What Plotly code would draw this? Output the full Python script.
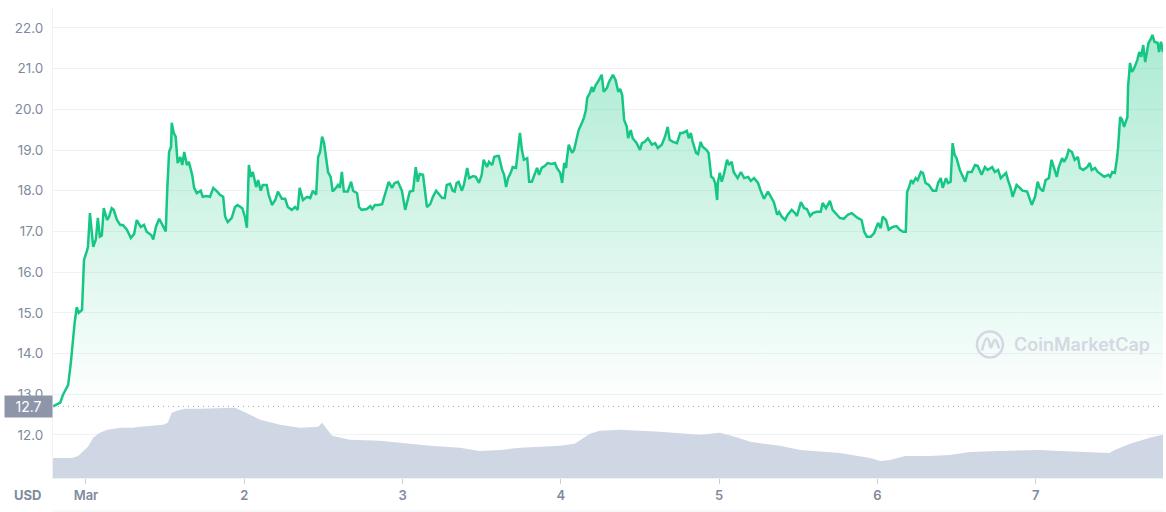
import pandas as pd
import plotly.graph_objects as go

# ---------------- data ----------------
# hours relative to 1 March 00:00
price_hours = [
    -5.0, -3.9, -3.5, -2.7, -2.3, -2.0, -1.7, -1.4, -1.1, -0.6, -0.3, 0.2, 0.3, 0.6, 0.9, 1.1, 1.5, 1.8, 2.1, 2.4,
    2.7, 3.2, 3.5, 3.9, 4.2, 4.7, 5.2, 5.6, 6.2, 6.8, 7.3, 7.7, 8.3, 8.8, 9.2, 9.9, 10.2, 10.6, 11.1, 11.7,
    12.1, 12.3, 12.6, 12.9, 13.0, 13.3, 13.6, 13.9, 14.3, 14.6, 14.9, 15.3, 15.6, 16.1, 16.4, 16.8, 17.4, 17.7, 18.3, 18.8,
    19.3, 19.9, 20.3, 20.8, 21.1, 21.5, 22.1, 22.6, 23.0,
    23.7, 24.1, 24.4, 24.7, 25.0, 25.3, 25.8, 26.1, 26.5, 26.8, 27.4, 27.7, 28.2, 28.7, 29.1, 29.7, 30.2, 30.6, 31.2, 31.7,
    32.1, 32.4, 32.9, 33.5, 34.0, 34.4, 34.9, 35.2, 35.5, 35.8, 36.1, 36.4, 36.7, 37.1, 37.4, 37.9, 38.2, 38.5, 38.8, 39.1,
    39.7, 40.2, 40.5, 41.1, 41.4, 41.8, 42.6, 43.1, 43.4, 43.8, 44.3, 44.9, 45.5, 45.9, 46.4, 46.8, 47.3, 47.9, 48.4, 48.8,
    49.1, 49.6, 50.0, 50.3, 50.6,
    51.1, 51.4, 51.7, 52.2, 52.6, 53.1, 53.4, 54.0, 54.4, 54.7, 55.2, 55.6, 55.9, 56.2, 56.5, 57.0, 57.3, 57.8, 58.1, 58.7,
    59.1, 59.6, 60.0, 60.3, 60.8, 61.1, 61.6, 61.9, 62.3, 62.6, 63.1, 63.4, 63.7, 64.0, 64.4, 64.7, 65.2, 65.5, 65.8, 66.1,
    66.4, 66.9, 67.2, 67.6, 67.9, 68.4, 68.7, 69.1, 69.6, 70.0, 70.6, 71.1, 71.4, 71.9, 72.2, 72.5, 72.8, 72.9, 73.2, 73.7,
    74.0, 74.4, 74.7, 75.2, 75.5, 75.8, 76.0, 76.4, 76.7, 76.9, 77.3, 77.6, 78.2,
    78.5, 79.0, 79.3, 79.9, 80.3, 80.7, 81.0, 81.3, 81.6, 82.0, 82.2, 82.6, 82.9, 83.5, 84.0, 84.3, 84.7, 85.2, 85.8, 86.3,
    86.7, 87.3, 87.8, 88.2, 88.5, 89.0, 89.6, 90.1, 90.5, 91.1, 91.4, 91.7, 92.0, 92.5, 92.8, 93.2, 93.5, 94.1, 94.4, 94.8,
    95.1, 95.4, 95.7, 95.8, 96.1, 96.4, 96.7, 97.2, 97.5, 97.9, 98.2, 98.8, 99.3, 99.8, 100.4, 100.8, 101.3, 101.9, 102.3, 102.8,
    103.4, 103.8, 104.3, 104.8, 105.1, 105.5, 106.0, 106.4, 107.0, 107.5,
    107.8, 108.4, 108.9, 109.3, 109.8, 110.2, 110.8, 111.4, 111.7, 112.2, 112.8, 113.2, 113.9, 114.3, 114.9, 115.5, 116.1, 116.6, 117.0, 117.6,
    118.0, 118.4, 119.0, 119.5, 119.8, 120.1, 120.5, 120.8, 121.3, 121.7, 122.3, 122.9, 123.4, 123.9, 124.3, 124.5, 124.8, 125.1, 125.4, 125.8,
    126.1, 126.6, 126.9, 127.3, 127.8, 128.4, 128.9, 129.2, 129.6, 129.9, 130.4, 130.7, 131.1, 131.4, 131.7, 132.0, 132.5, 133.0, 133.3, 133.7,
    134.3, 134.8,
    135.2, 135.8, 136.3, 136.7, 137.4, 137.8, 138.3, 138.7, 139.5, 139.8, 140.2, 140.5, 141.1, 141.6, 142.0, 142.7, 143.0, 143.4, 143.9, 144.3,
    144.6, 145.1, 145.5, 146.0, 146.4, 146.8, 147.2, 147.5, 148.0, 148.3, 148.7, 149.0, 149.5, 149.9, 150.4, 150.7, 151.2, 151.8, 152.2, 152.5,
    153.0, 153.4, 153.9, 154.4, 155.0, 155.3, 155.6, 156.0, 156.3, 156.5, 156.8, 157.1, 157.4, 157.9, 158.0, 158.3, 158.6, 158.9, 159.4, 159.7,
    160.0, 160.3, 160.6, 161.1, 161.4, 161.7, 162.0, 162.5, 162.7, 163.0, 163.3,
]
price_usd = [
    12.70, 12.79, 12.98, 13.23, 13.77, 14.33, 14.78, 15.14, 15.00, 15.07, 16.30, 16.55, 16.62, 17.45, 16.87, 16.62, 16.80, 17.33, 16.87, 16.90,
    17.57, 17.28, 17.36, 17.57, 17.53, 17.28, 17.16, 17.16, 17.04, 16.84, 16.94, 17.28, 17.11, 17.16, 16.99, 16.91, 16.80, 17.11, 17.31, 17.11,
    17.00, 17.94, 18.95, 19.08, 19.67, 19.42, 19.33, 18.68, 18.83, 18.63, 18.95, 18.63, 18.71, 18.39, 18.07, 17.94, 18.00, 17.85, 17.87, 17.85,
    18.07, 17.98, 17.90, 17.85, 17.36, 17.23, 17.33, 17.60, 17.65,
    17.57, 17.36, 17.09, 18.63, 18.34, 18.46, 18.09, 18.26, 18.00, 18.14, 18.14, 17.90, 17.65, 17.77, 17.98, 17.80, 17.80, 17.60, 17.53, 17.60,
    17.53, 18.07, 17.77, 17.85, 17.82, 18.00, 17.90, 18.83, 18.95, 19.33, 19.17, 18.83, 18.46, 18.34, 17.98, 18.07, 18.14, 18.07, 18.46, 17.98,
    17.98, 18.22, 18.00, 17.94, 17.60, 17.53, 17.55, 17.62, 17.55, 17.65, 17.65, 17.67, 18.04, 18.22, 18.07, 18.19, 18.22, 18.00, 17.53, 17.77,
    17.98, 18.00, 18.58, 18.22, 18.41,
    18.39, 17.94, 17.60, 17.67, 17.85, 18.00, 17.94, 17.82, 17.82, 18.14, 18.17, 18.00, 17.98, 18.19, 18.22, 18.00, 18.14, 18.56, 18.31, 18.36,
    18.34, 18.19, 18.39, 18.76, 18.58, 18.71, 18.63, 18.83, 18.85, 18.85, 18.51, 18.39, 18.09, 18.31, 18.44, 18.58, 18.56, 19.00, 19.42, 19.00,
    18.76, 18.80, 18.22, 18.22, 18.34, 18.56, 18.39, 18.56, 18.61, 18.68, 18.66, 18.68, 18.56, 18.44, 18.19, 18.68, 18.56, 18.76, 19.13, 18.93,
    19.00, 19.25, 19.49, 19.67, 19.79, 19.98, 20.28, 20.40, 20.55, 20.43, 20.60, 20.67, 20.85,
    20.43, 20.53, 20.67, 20.85, 20.72, 20.43, 20.50, 20.35, 19.74, 19.57, 19.29, 19.49, 19.29, 19.17, 19.00, 19.17, 19.20, 19.29, 19.13, 19.17,
    19.05, 19.13, 19.33, 19.57, 19.25, 19.20, 19.17, 19.42, 19.42, 19.47, 19.29, 19.42, 19.20, 18.93, 18.90, 19.20, 19.08, 19.00, 18.93, 18.34,
    18.31, 18.19, 17.77, 18.19, 18.44, 18.22, 18.39, 18.76, 18.63, 18.71, 18.46, 18.31, 18.46, 18.31, 18.34, 18.24, 18.31, 18.19, 18.00, 17.80,
    17.98, 17.85, 17.72, 17.41, 17.48, 17.36, 17.28, 17.41, 17.53, 17.45,
    17.38, 17.72, 17.57, 17.55, 17.38, 17.45, 17.48, 17.48, 17.70, 17.57, 17.75, 17.53, 17.41, 17.33, 17.31, 17.41, 17.45, 17.38, 17.33, 17.28,
    16.99, 16.87, 16.87, 16.96, 17.11, 17.21, 17.08, 17.36, 17.28, 17.04, 17.11, 17.13, 17.04, 16.99, 16.99, 17.97, 18.09, 18.26, 18.19, 18.31,
    18.26, 18.46, 18.44, 18.19, 18.14, 18.00, 18.00, 18.19, 18.31, 18.07, 18.31, 18.19, 18.22, 19.17, 18.88, 18.80, 18.51, 18.34, 18.22, 18.46,
    18.46, 18.63,
    18.61, 18.39, 18.58, 18.51, 18.58, 18.46, 18.51, 18.31, 18.44, 18.26, 18.07, 17.85, 18.14, 18.07, 18.00, 17.98, 17.85, 17.65, 17.85, 18.22,
    18.07, 17.98, 18.26, 18.31, 18.76, 18.56, 18.34, 18.58, 18.80, 18.71, 18.83, 19.00, 18.95, 18.76, 18.83, 18.56, 18.51, 18.58, 18.68, 18.51,
    18.56, 18.46, 18.39, 18.34, 18.39, 18.34, 18.46, 18.44, 18.76, 19.08, 19.81, 19.74, 19.57, 19.81, 20.55, 21.14, 20.92, 21.00, 21.21, 21.41,
    21.29, 21.58, 21.16, 21.63, 21.71, 21.83, 21.66, 21.63, 21.41, 21.66, 21.41,
]

# trading volume (million USD, relative scale read from the grey area)
volume_hours = [
    -5.0, -2.1, -1.2, -0.2, 0.3, 1.1, 2.1, 3.2, 5.2, 7.1, 8.2, 11.7, 12.4, 13.0, 13.8, 15.0, 17.3, 22.6, 23.3, 24.9,
    26.4, 29.4, 32.4, 35.2, 35.8, 36.4, 37.3, 40.0, 44.6, 47.6, 52.2, 56.7, 59.7, 62.8, 65.8, 71.9, 74.1, 76.4, 77.9, 81.0,
    87.0, 93.1, 96.1, 98.4, 100.7, 105.2, 108.3, 114.3, 118.9, 120.4, 121.9, 124.2, 127.9, 131.0, 134.0, 138.6, 144.6, 147.7, 152.2, 155.2,
    156.0, 158.3, 161.3, 163.3,
]
volume_musd = [
    200, 200, 220, 280, 310, 400, 450, 480, 500, 500, 510, 530, 550, 650, 670, 690, 690, 700, 680, 630,
    580, 530, 500, 510, 550, 500, 420, 380, 370, 350, 320, 300, 270, 280, 300, 320, 340, 440, 470, 480,
    460, 430, 450, 410, 360, 320, 280, 250, 200, 170, 180, 220, 220, 230, 260, 270, 280, 270, 260, 250,
    280, 340, 400, 430,
]

day_ticks = ["2021-03-01", "2021-03-02", "2021-03-03", "2021-03-04", "2021-03-05", "2021-03-06", "2021-03-07"]
day_labels = ["Mar", "2", "3", "4", "5", "6", "7"]
price_ticks = [12, 13, 14, 15, 16, 17, 18, 19, 20, 21, 22]
open_price = 12.7

base = pd.Timestamp("2021-03-01 00:00")
price_times = base + pd.to_timedelta(price_hours, unit="h")
volume_times = base + pd.to_timedelta(volume_hours, unit="h")

GREEN = "#16c784"
AXIS_TXT = "#808a9d"
GRID = "#eff2f5"
VOL = "#cfd6e4"
FONT = "Inter"

fig = go.Figure()

fig.add_trace(go.Scatter(
    x=price_times, y=price_usd, mode="lines",
    line=dict(color=GREEN, width=2.5),
    fill="tozeroy",
    fillgradient=dict(type="vertical",
                      colorscale=[[0, "rgba(22,199,132,0)"], [1, "rgba(22,199,132,0.36)"]],
                      start=open_price, stop=max(price_usd)),
    hoverinfo="skip", showlegend=False,
))

fig.add_trace(go.Scatter(
    x=volume_times, y=volume_musd, mode="lines", yaxis="y2",
    line=dict(color=VOL, width=0), fill="tozeroy", fillcolor=VOL,
    hoverinfo="skip", showlegend=False,
))

fig.update_layout(
    width=1166, height=512,
    margin=dict(l=53, r=3, t=8, b=34),
    paper_bgcolor="white", plot_bgcolor="white",
    font=dict(family=FONT, color=AXIS_TXT, size=13),
    xaxis=dict(
        type="date",
        range=[price_times[0], price_times[-1]],
        tickvals=day_ticks, ticktext=day_labels,
        showgrid=False, zeroline=False,
        showline=True, linecolor=GRID, linewidth=1,
        ticks="outside", ticklen=5, tickcolor="#c9ced8", tickwidth=1,
        tickfont=dict(family=FONT, size=13, color=AXIS_TXT, weight=600),
    ),
    yaxis=dict(
        range=[10.94, 22.49],
        tickvals=price_ticks, ticktext=[f"{v:.1f}" for v in price_ticks],
        showgrid=True, gridcolor=GRID, gridwidth=1, zeroline=False,
        showline=True, linecolor=GRID, linewidth=1,
        ticks="", ticklabelstandoff=6,
        tickfont=dict(family=FONT, size=13.5, color=AXIS_TXT),
    ),
    yaxis2=dict(
        overlaying="y", range=[0, 4680], visible=False, showgrid=False, zeroline=False,
    ),
    shapes=[
        dict(type="line", xref="paper", x0=0, x1=1, yref="y", y0=open_price, y1=open_price,
             line=dict(color="#9aa2b3", width=1, dash="1px,4px"), layer="above"),
        dict(type="line", xref="paper", x0=0, x1=1, yref="paper", y0=-0.0705, y1=-0.0705,
             line=dict(color=GRID, width=1)),
        # watermark logo
        dict(type="circle", xref="paper", yref="paper", xsizemode="pixel", ysizemode="pixel",
             xanchor=0.8441, yanchor=0.284, x0=-13, x1=13, y0=-13, y1=13,
             line=dict(color="#d3d8e2", width=2.5), layer="above"),
        dict(type="path", xref="paper", yref="paper", xsizemode="pixel", ysizemode="pixel",
             xanchor=0.8441, yanchor=0.284,
             path="M -8,-6 Q -5,6 -3,6 Q -1,6 0,-1 Q 1,-5 2,-1 Q 4,6 6,4 Q 8,1 9,-4",
             line=dict(color="#d3d8e2", width=2.5), layer="above"),
    ],
    annotations=[
        dict(text=f"{open_price:.1f}", xref="paper", x=0, xanchor="right", yref="y", y=open_price,
             yanchor="middle", showarrow=False, bgcolor="#8e95a8", width=47, height=21,
             borderpad=0, font=dict(family=FONT, size=14, color="white")),
        dict(text="USD", xref="paper", x=0, xanchor="center", xshift=-26,
             yref="paper", y=0, yanchor="middle", yshift=-17, showarrow=False,
             font=dict(family=FONT, size=13, color=AXIS_TXT, weight=700)),
        dict(text="CoinMarketCap", xref="paper", x=0.927, xanchor="center",
             yref="paper", y=0.284, yanchor="middle", showarrow=False,
             font=dict(family=FONT, size=18, color="#d3d8e2", weight=600)),
    ],
)

fig.write_html("out.html", config={"displayModeBar": False},
               post_script="document.body.style.margin='0';")
